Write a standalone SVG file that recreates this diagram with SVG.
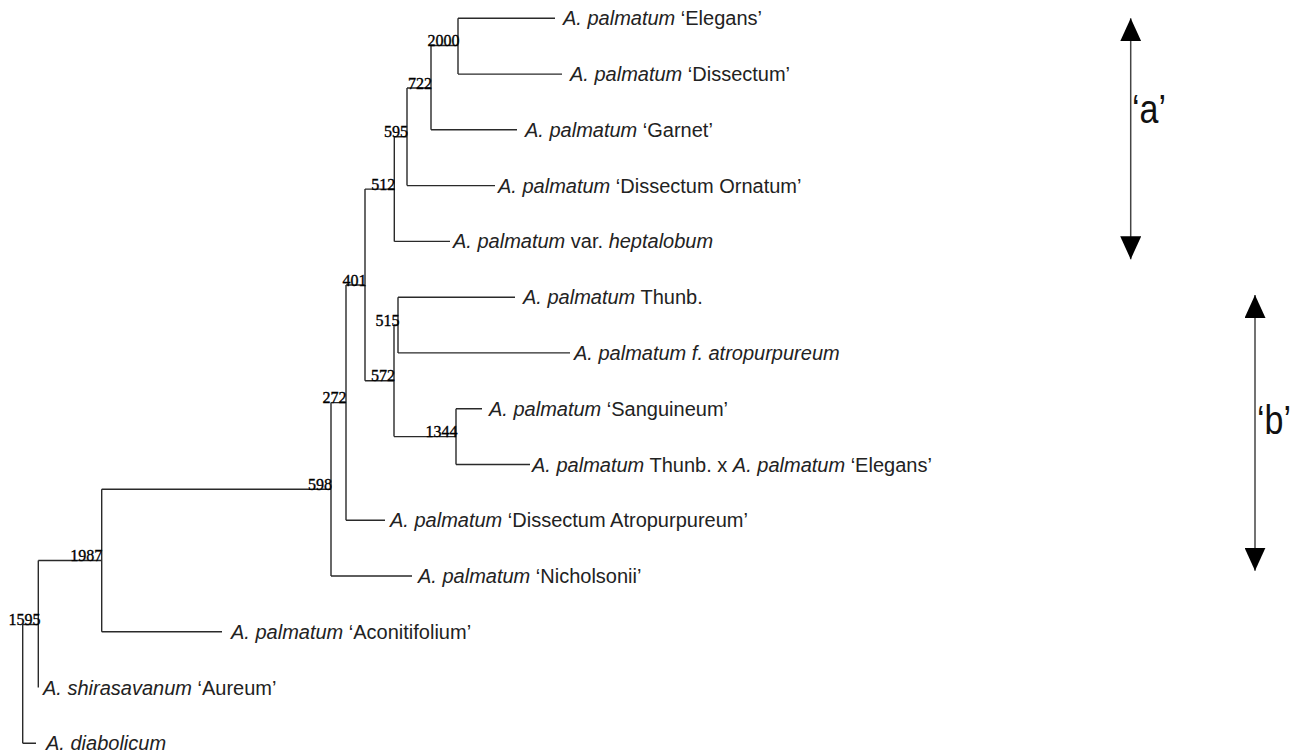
<svg xmlns="http://www.w3.org/2000/svg" width="1298" height="754" viewBox="0 0 1298 754">
<style>
.br{fill:none;stroke:#2a2a2a;stroke-width:1.4}
.leaf{font-family:"Liberation Sans",Arial,sans-serif;font-size:20px;fill:#222}
.i{font-style:italic}
.bs{font-family:"Liberation Serif","Times New Roman",serif;font-size:16px;fill:#000;stroke:#000;stroke-width:0.35;text-anchor:end}
.ar{stroke:#444;stroke-width:1.5;fill:none}
.al{font-family:"Liberation Sans",Arial,sans-serif;font-size:34px;fill:#111}
</style>
<defs>
<marker id="head" viewBox="0 0 23 21" refX="23" refY="10.5" markerWidth="23" markerHeight="21" markerUnits="userSpaceOnUse" orient="auto-start-reverse">
<path d="M0,0 L23,10.5 L0,21 z" fill="#000"/>
</marker>
</defs>
<rect width="1298" height="754" fill="#fff"/>
<g id="connectors">
<path class="br" d="M458,18.3V74.1 M458,18.3H555 M458,74.1H562"/>
<path class="br" d="M431,45.5V129.8 M431,45.5H458 M431,129.8H517"/>
<path class="br" d="M407,88V185.6 M407,88H431 M407,185.6H495"/>
<path class="br" d="M394.3,136.8V241.4 M394.3,136.8H407 M394.3,241.4H450"/>
<path class="br" d="M398,297.2V352.9 M398,297.2H515 M398,352.9H570"/>
<path class="br" d="M456,408.7V464.5 M456,408.7H482 M456,464.5H530"/>
<path class="br" d="M394,325V436.6 M394,325H398 M394,436.6H456"/>
<path class="br" d="M365,189.1V380.8 M365,189.1H394.3 M365,380.8H394"/>
<path class="br" d="M346,285V520.2 M346,285H365 M346,520.2H385"/>
<path class="br" d="M331,402.6V576 M331,402.6H346 M331,576H412"/>
<path class="br" d="M101.7,489.3V631.8 M101.7,489.3H331 M101.7,631.8H222"/>
<path class="br" d="M38.3,560.5V687.5 M38.3,560.5H101.7"/>
<path class="br" d="M22.7,624.5V743.3 M22.7,624.5H38.3 M22.7,743.3H36"/>
</g>
<g id="leaf-elegans"><text class="leaf" x="563" y="25.3"><tspan class="i">A. palmatum</tspan> ‘Elegans’</text></g>
<g id="leaf-dissectum"><text class="leaf" x="570" y="81.1"><tspan class="i">A. palmatum</tspan> ‘Dissectum’</text></g>
<g id="leaf-garnet"><text class="leaf" x="525" y="136.8"><tspan class="i">A. palmatum</tspan> ‘Garnet’</text></g>
<g id="leaf-dissectum-ornatum"><text class="leaf" x="498" y="192.6"><tspan class="i">A. palmatum</tspan> ‘Dissectum Ornatum’</text></g>
<g id="leaf-heptalobum"><text class="leaf" x="453" y="248.4"><tspan class="i">A. palmatum</tspan> var. <tspan class="i">heptalobum</tspan></text></g>
<g id="leaf-thunb"><text class="leaf" x="523" y="304.2"><tspan class="i">A. palmatum</tspan> Thunb.</text></g>
<g id="leaf-atropurpureum"><text class="leaf i" x="574" y="359.9">A. palmatum f. atropurpureum</text></g>
<g id="leaf-sanguineum"><text class="leaf" x="489" y="415.7"><tspan class="i">A. palmatum</tspan> ‘Sanguineum’</text></g>
<g id="leaf-thunb-x-elegans"><text class="leaf" x="532" y="471.5"><tspan class="i">A. palmatum</tspan> Thunb. x <tspan class="i">A. palmatum</tspan> ‘Elegans’</text></g>
<g id="leaf-dissectum-atropurpureum"><text class="leaf" x="390" y="527.2"><tspan class="i">A. palmatum</tspan> ‘Dissectum Atropurpureum’</text></g>
<g id="leaf-nicholsonii"><text class="leaf" x="418" y="583"><tspan class="i">A. palmatum</tspan> ‘Nicholsonii’</text></g>
<g id="leaf-aconitifolium"><text class="leaf" x="231" y="638.8"><tspan class="i">A. palmatum</tspan> ‘Aconitifolium’</text></g>
<g id="leaf-aureum"><text class="leaf" x="43" y="694.5"><tspan class="i">A. shirasavanum</tspan> ‘Aureum’</text></g>
<g id="leaf-diabolicum"><text class="leaf i" x="46" y="750.3">A. diabolicum</text></g>
<g id="node-2000"><text class="bs" x="459.5" y="45.5">2000</text></g>
<g id="node-722"><text class="bs" x="432" y="88.5">722</text></g>
<g id="node-595"><text class="bs" x="408" y="137.3">595</text></g>
<g id="node-512"><text class="bs" x="395.3" y="189.6">512</text></g>
<g id="node-515"><text class="bs" x="399.5" y="325.5">515</text></g>
<g id="node-1344"><text class="bs" x="457.5" y="437.1">1344</text></g>
<g id="node-572"><text class="bs" x="395" y="381.3">572</text></g>
<g id="node-401"><text class="bs" x="366.5" y="285.5">401</text></g>
<g id="node-272"><text class="bs" x="346.5" y="403.1">272</text></g>
<g id="node-598"><text class="bs" x="332" y="489.8">598</text></g>
<g id="node-1987"><text class="bs" x="102.2" y="561">1987</text></g>
<g id="node-1595"><text class="bs" x="40.5" y="625">1595</text></g>
<g id="group-a">
<line class="ar" x1="1130.7" y1="18.3" x2="1130.7" y2="259.3" marker-start="url(#head)" marker-end="url(#head)"/>
<text class="al" transform="translate(1132,122.7) scale(1,1.2)">‘a’</text>
</g>
<g id="group-b">
<line class="ar" x1="1255" y1="295" x2="1255" y2="570.7" marker-start="url(#head)" marker-end="url(#head)"/>
<text class="al" transform="translate(1257,434) scale(1,1.2)">‘b’</text>
</g>
</svg>
